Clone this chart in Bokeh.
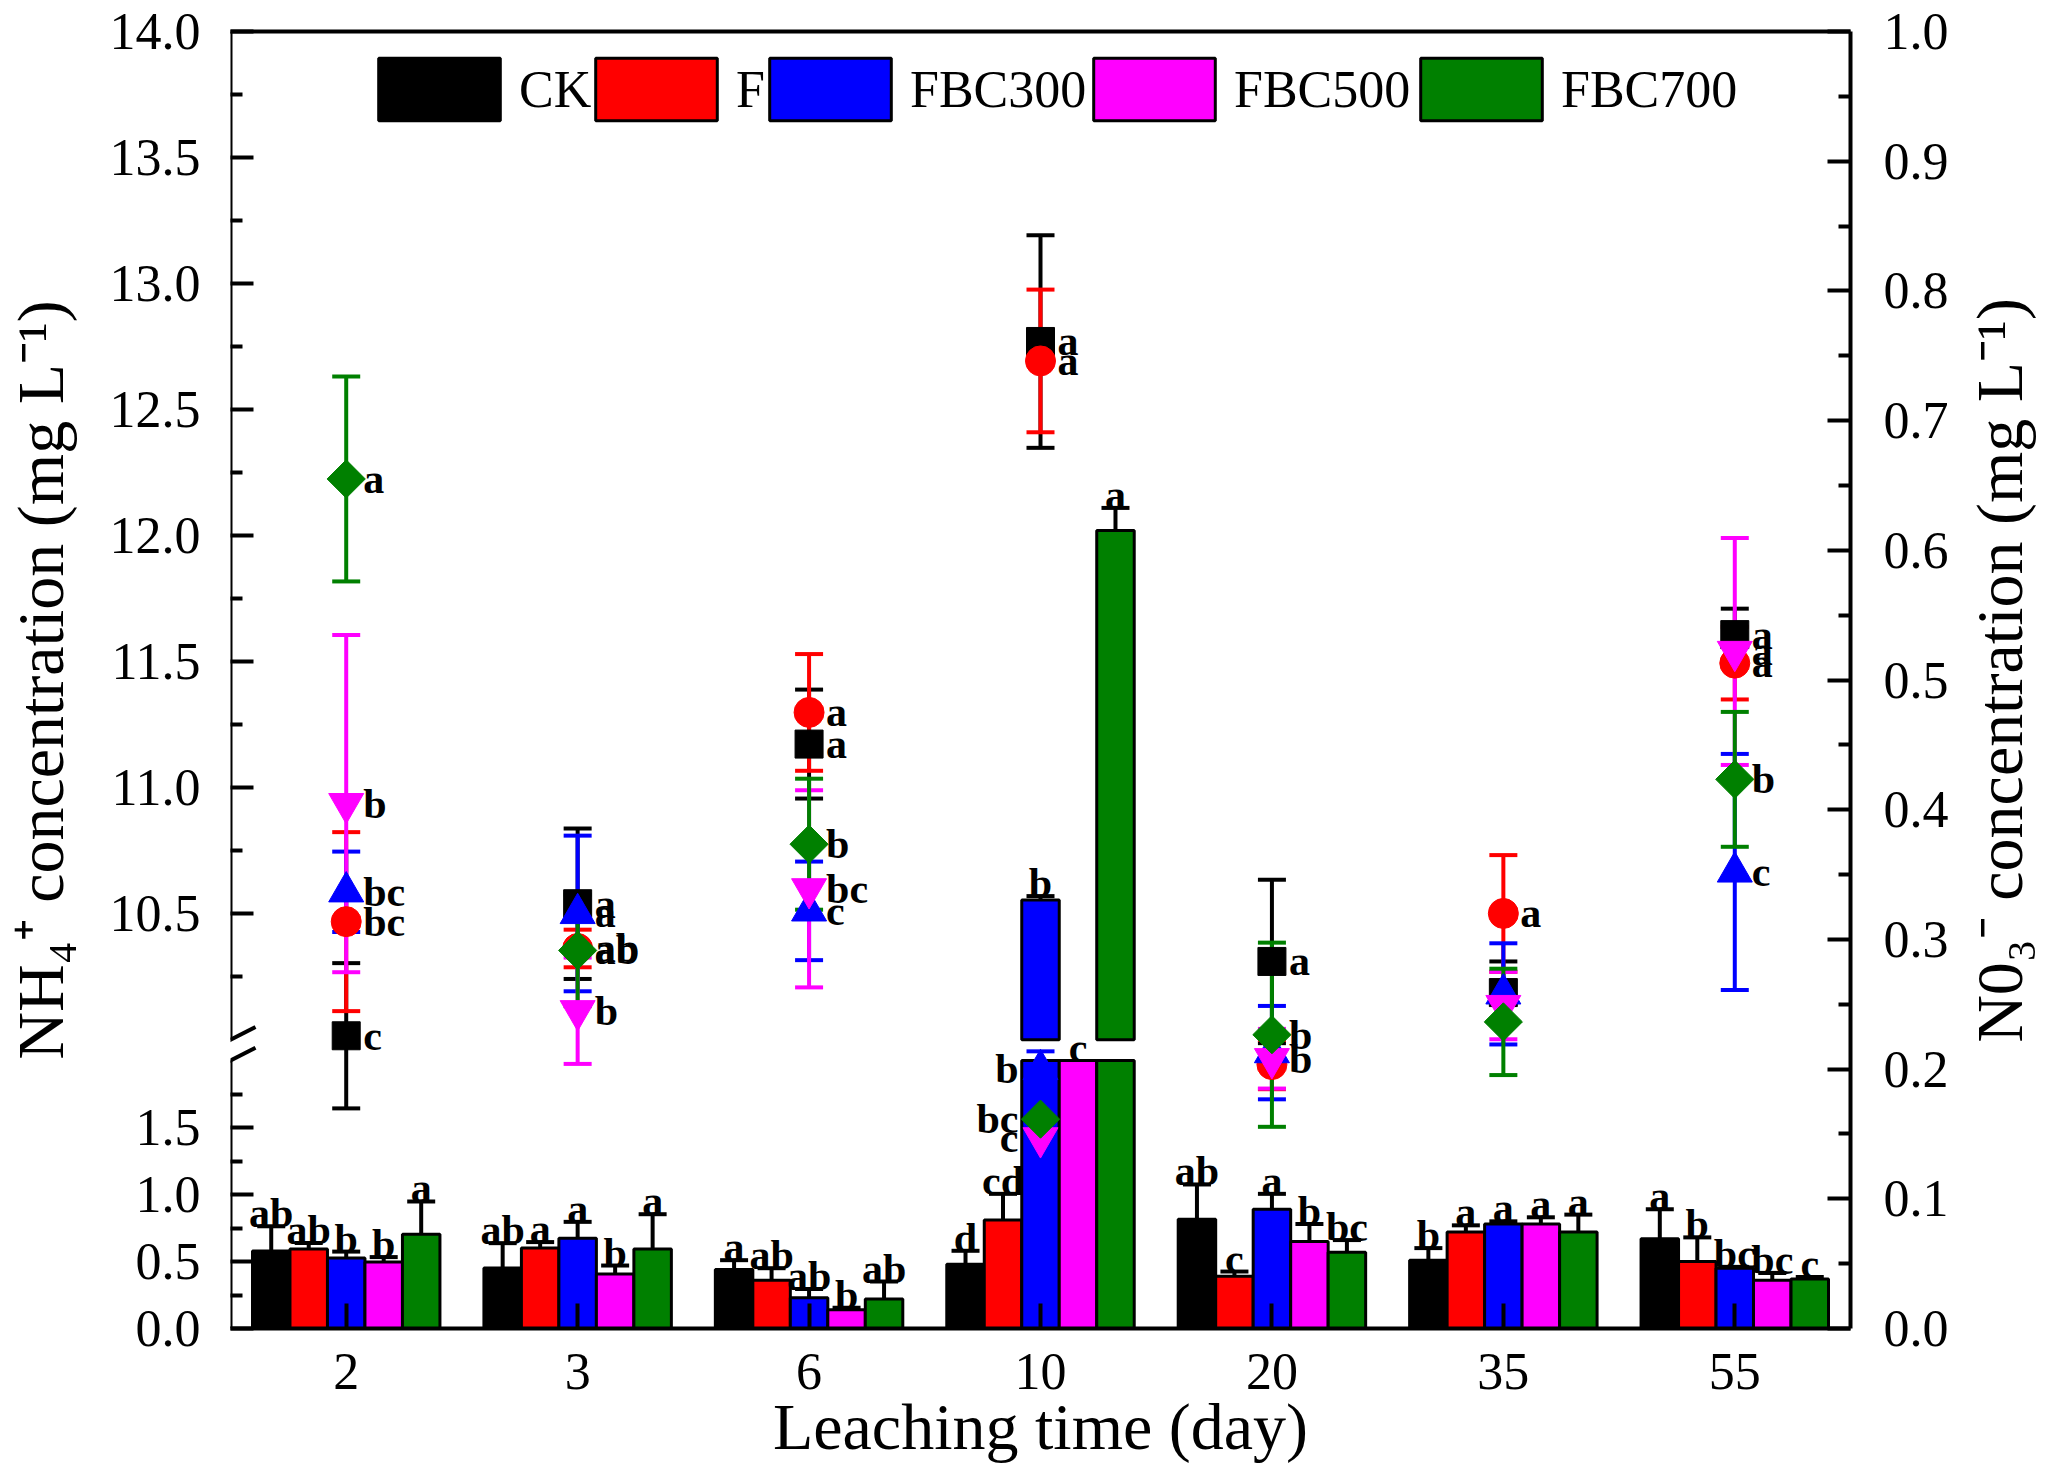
import math
from bokeh.plotting import figure
from bokeh.layouts import row
from bokeh.models import (Range1d, LinearAxis, FixedTicker, CustomJSTickFormatter,
                          PrintfTickFormatter, Whisker, TeeHead, ColumnDataSource, Arrow,
                          Legend, LegendItem)
from bokeh.core.properties import value
from bokeh.embed import file_html
from bokeh.resources import INLINE

# ---------------- data ----------------
days = ["2", "3", "6", "10", "20", "35", "55"]
series = ["CK", "F", "FBC300", "FBC500", "FBC700"]
colors = ["#000000", "#FF0000", "#0000FF", "#FF00FF", "#008000"]

# NH4+ concentration (bars, left broken axis, mg/L)
nh4_CK = [0.578, 0.452, 0.44, 0.48, 0.815, 0.51, 0.67]
nh4_CK_err = [0.185, 0.185, 0.07, 0.10, 0.26, 0.09, 0.22]
nh4_F = [0.593, 0.60, 0.36, 0.81, 0.39, 0.72, 0.50]
nh4_F_err = [0.045, 0.045, 0.09, 0.195, 0.035, 0.05, 0.18]
nh4_FBC300 = [0.526, 0.674, 0.23, 10.555, 0.89, 0.78, 0.45]
nh4_FBC300_err = [0.048, 0.122, 0.065, 0.015, 0.115, 0.02, 0.01]
nh4_FBC500 = [0.496, 0.407, 0.14, 5.0, 0.65, 0.78, 0.36]
nh4_FBC500_err = [0.037, 0.063, 0.015, 0.3, 0.13, 0.05, 0.055]
nh4_FBC700 = [0.704, 0.593, 0.22, 12.02, 0.57, 0.72, 0.37]
nh4_FBC700_err = [0.244, 0.26, 0.13, 0.09, 0.09, 0.13, 0.015]

nh4_CK_sig = ["ab", "ab", "a", "d", "ab", "b", "a"]
nh4_F_sig = ["ab", "a", "ab", "cd", "c", "a", "b"]
nh4_FBC300_sig = ["b", "a", "ab", "b", "a", "a", "bc"]
nh4_FBC500_sig = ["b", "b", "b", "c", "b", "a", "bc"]
nh4_FBC700_sig = ["a", "a", "ab", "a", "bc", "a", "c"]

# NO3- concentration (markers, right axis, mg/L)
no3_CK = [0.2257, 0.3275, 0.4506, 0.761, 0.283, 0.259, 0.535]
no3_CK_err = [0.056, 0.058, 0.042, 0.082, 0.063, 0.024, 0.02]
no3_F = [0.3137, 0.293, 0.475, 0.746, 0.2035, 0.320, 0.513]
no3_F_err = [0.069, 0.0145, 0.045, 0.055, 0.019, 0.045, 0.028]
no3_FBC300 = [0.3367, 0.320, 0.322, 0.1997, 0.2127, 0.258, 0.352]
no3_FBC300_err = [0.031, 0.060, 0.038, 0.014, 0.036, 0.039, 0.091]
no3_FBC500 = [0.4047, 0.245, 0.339, 0.147, 0.208, 0.249, 0.522]
no3_FBC500_err = [0.130, 0.041, 0.076, 0.011, 0.023, 0.026, 0.0875]
no3_FBC700 = [0.655, 0.2915, 0.3734, 0.1614, 0.2265, 0.2364, 0.4234]
no3_FBC700_err = [0.079, 0.043, 0.0505, 0.0165, 0.071, 0.041, 0.052]

no3_CK_sig = ["c", "a", "a", "a", "a", "", "a"]
no3_F_sig = ["bc", "ab", "a", "a", "", "a", "a"]
no3_FBC300_sig = ["bc", "a", "c", "b", "", "", "c"]
no3_FBC500_sig = ["b", "b", "bc", "c", "b", "", "a"]
no3_FBC700_sig = ["a", "ab", "b", "bc", "b", "", "b"]

# axis ticks
left_lo_ticks = [0.0, 0.5, 1.0, 1.5]
left_lo_minor = [0.25, 0.75, 1.25, 1.75]
left_hi_ticks = [10.5, 11.0, 11.5, 12.0, 12.5, 13.0, 13.5, 14.0]
left_hi_minor = [10.25, 10.75, 11.25, 11.75, 12.25, 12.75, 13.25, 13.75]
right_ticks = [0.0, 0.1, 0.2, 0.3, 0.4, 0.5, 0.6, 0.7, 0.8, 0.9, 1.0]
right_minor = [0.05, 0.15, 0.25, 0.35, 0.45, 0.55, 0.65, 0.75, 0.85, 0.95]

left_title = "NH\u2084\u207a concentration (mg L\u207b\u00b9)"
right_title = "N0\u2083\u207b concentration (mg L\u207b\u00b9)"
x_title = "Leaching time (day)"

nh4 = [nh4_CK, nh4_F, nh4_FBC300, nh4_FBC500, nh4_FBC700]
nh4_err = [nh4_CK_err, nh4_F_err, nh4_FBC300_err, nh4_FBC500_err, nh4_FBC700_err]
nh4_sig = [nh4_CK_sig, nh4_F_sig, nh4_FBC300_sig, nh4_FBC500_sig, nh4_FBC700_sig]
no3 = [no3_CK, no3_F, no3_FBC300, no3_FBC500, no3_FBC700]
no3_err = [no3_CK_err, no3_F_err, no3_FBC300_err, no3_FBC500_err, no3_FBC700_err]
no3_sig = [no3_CK_sig, no3_F_sig, no3_FBC300_sig, no3_FBC500_sig, no3_FBC700_sig]

# ---------------- layout / scales ----------------
FONT = "Liberation Serif"
BAR_W = 0.162
TOP_B, FRAME_H, BOT_B = 31, 1297, 118
LEFT_B, FRAME_W, RIGHT_B = 227, 1620, 98
TOTAL_W, TOTAL_H = 2031, TOP_B + FRAME_H + BOT_B

LO_TOP, HI_BOT, HI_TOP = 2.0, 10.0, 14.0
LO_FRAC, HI_FRAC = 0.2066, 0.2226     # fraction of axis height where segments end / start
LO_END = LO_TOP / LO_FRAC
HI_START = (HI_BOT - HI_TOP * HI_FRAC) / (1 - HI_FRAC)


def lo_r(v):
    return v / LO_END


def hi_r(v):
    return (v - HI_START) / (HI_TOP - HI_START)


idx = list(range(len(days)))
X0, X1 = -0.5, len(days) - 0.5

p = figure(frame_width=FRAME_W, frame_height=FRAME_H,
           x_range=Range1d(X0, X1), y_range=Range1d(0, 1),
           x_axis_location=None, y_axis_location=None,
           toolbar_location=None, output_backend="svg",
           min_border_left=LEFT_B, min_border_right=RIGHT_B,
           min_border_top=TOP_B, min_border_bottom=BOT_B)
p.outline_line_color = None
p.xgrid.visible = False
p.ygrid.visible = False
p.extra_y_ranges = {"lo": Range1d(0, LO_END), "hi": Range1d(HI_START, HI_TOP)}

# ---------------- bars ----------------
bar_renderers = []
for k in range(len(series)):
    vals, errs, sigs, col = nh4[k], nh4_err[k], nh4_sig[k], colors[k]
    xs = [i + (k - 2) * BAR_W for i in idx]
    r = p.vbar(x=xs, top=[min(v, LO_TOP) for v in vals], bottom=0, width=BAR_W,
               fill_color=col, line_color="black", line_width=3, y_range_name="lo")
    bar_renderers.append(r)
    hx = [x for x, v in zip(xs, vals) if v > HI_BOT]
    ht = [v for v in vals if v > HI_BOT]
    if hx:
        p.vbar(x=hx, top=ht, bottom=HI_BOT, width=BAR_W, fill_color=col,
               line_color="black", line_width=3, y_range_name="hi")

    for rng, keep in (("lo", lambda v, e: v + e <= LO_TOP), ("hi", lambda v, e: v >= HI_BOT)):
        bx = [x for x, v, e in zip(xs, vals, errs) if keep(v, e)]
        if not bx:
            continue
        lo = [v - e for v, e in zip(vals, errs) if keep(v, e)]
        up = [v + e for v, e in zip(vals, errs) if keep(v, e)]
        src = ColumnDataSource(dict(base=bx, lower=lo, upper=up))
        p.add_layout(Whisker(base="base", lower="lower", upper="upper", source=src,
                             dimension="height", line_color="black", line_width=4,
                             upper_head=TeeHead(size=28, line_width=4, line_color="black"),
                             lower_head=TeeHead(size=28, line_width=4, line_color="black"),
                             y_range_name=rng))

    # significance letters above bars
    lx, ly, lt = [], [], []
    hx2, hy2, ht2 = [], [], []
    for x, v, e, s in zip(xs, vals, errs, sigs):
        if v >= HI_BOT:
            hx2.append(x); hy2.append(v + e); ht2.append(s)
        else:
            lx.append(x); ly.append(min(v + e, LO_TOP)); lt.append(s)
    for X, Y, T, rng in ((lx, ly, lt, "lo"), (hx2, hy2, ht2, "hi")):
        if X:
            p.text(x=X, y=Y, text=T, y_range_name=rng, text_align="center",
                   text_baseline="alphabetic", y_offset=-13,
                   text_font=value(FONT), text_font_style="bold",
                   text_font_size="42px", text_color="black")

# ---------------- markers ----------------
markers = ["square", "circle", "triangle", "inverted_triangle", "square"]
angles = [0, 0, 0, 0, math.pi / 4]
sizes = [28, 30, 35, 35, 27]
for k in range(len(series)):
    p.scatter(x=idx, y=no3[k], marker=markers[k], size=sizes[k], angle=angles[k],
              fill_color=colors[k], line_color=colors[k])
for k in range(len(series)):
    src = ColumnDataSource(dict(base=idx,
                                lower=[v - e for v, e in zip(no3[k], no3_err[k])],
                                upper=[v + e for v, e in zip(no3[k], no3_err[k])]))
    p.add_layout(Whisker(base="base", lower="lower", upper="upper", source=src,
                         dimension="height", line_color=colors[k], line_width=4,
                         upper_head=TeeHead(size=28, line_width=4, line_color=colors[k]),
                         lower_head=TeeHead(size=28, line_width=4, line_color=colors[k])))
for k in range(len(series)):
    rx, ry, rt, lx, ly, lt = [], [], [], [], [], []
    for i, v, s in zip(idx, no3[k], no3_sig[k]):
        if days[i] == "10" and v < LO_FRAC:   # letters that would sit on the tall bars go left
            lx.append(i); ly.append(v); lt.append(s)
        else:
            rx.append(i); ry.append(v); rt.append(s)
    if rx:
        p.text(x=rx, y=ry, text=rt, text_align="left", text_baseline="middle", x_offset=17,
               text_font=value(FONT), text_font_style="bold", text_font_size="42px",
               text_color="black")
    if lx:
        p.text(x=lx, y=ly, text=lt, text_align="right", text_baseline="middle", x_offset=-22,
               text_font=value(FONT), text_font_style="bold", text_font_size="42px",
               text_color="black")

# ---------------- axes ----------------
def style(ax, tick_in=23, minor_in=12):
    ax.axis_line_width = 4
    ax.axis_line_color = "black"
    ax.major_tick_in = tick_in
    ax.major_tick_out = 0
    ax.minor_tick_in = minor_in
    ax.minor_tick_out = 0
    ax.major_tick_line_width = 4
    ax.minor_tick_line_width = 4
    ax.major_label_text_font = FONT
    ax.major_label_text_font_size = "52px"
    ax.major_label_text_color = "black"
    ax.axis_label_text_font = FONT
    ax.axis_label_text_font_style = "normal"
    ax.axis_label_text_font_size = "66px"
    ax.axis_label_text_color = "black"


left_pos = [lo_r(v) for v in left_lo_ticks] + [hi_r(v) for v in left_hi_ticks]
left_lab = ["%.1f" % v for v in left_lo_ticks + left_hi_ticks]
left_minor = [lo_r(v) for v in left_lo_minor] + [hi_r(v) for v in left_hi_minor]
left_ax = LinearAxis(ticker=FixedTicker(ticks=left_pos, minor_ticks=left_minor),
                     formatter=CustomJSTickFormatter(args=dict(pos=left_pos, lab=left_lab), code="""
for (let i = 0; i < pos.length; i++) { if (Math.abs(pos[i] - tick) < 1e-6) return lab[i] }
return ""
"""), axis_label=left_title)
style(left_ax)
left_ax.axis_line_color = None
left_ax.major_label_standoff = 30
left_ax.axis_label_standoff = 30
p.add_layout(left_ax, "left")

right_ax = LinearAxis(ticker=FixedTicker(ticks=right_ticks, minor_ticks=right_minor),
                      formatter=PrintfTickFormatter(format="%.1f"))
style(right_ax)
right_ax.major_label_standoff = 33
p.add_layout(right_ax, "right")

below_ax = LinearAxis(ticker=FixedTicker(ticks=idx, minor_ticks=[]),
                      formatter=CustomJSTickFormatter(args=dict(lab=days),
                                                      code="return lab[Math.round(tick)]"),
                      axis_label=x_title)
style(below_ax, tick_in=25, minor_in=0)
below_ax.major_label_standoff = 25
below_ax.axis_label_standoff = -2
p.add_layout(below_ax, "below")

above_ax = LinearAxis(ticker=FixedTicker(ticks=[], minor_ticks=[]))
above_ax.axis_line_width = 4
above_ax.major_label_text_font_size = "0px"
p.add_layout(above_ax, "above")

# left axis line with a break, and the break marks
for y0, y1 in ((0, LO_FRAC), (HI_FRAC, 1.0)):
    p.add_layout(Arrow(start=None, end=None, x_start=X0, y_start=y0, x_end=X0, y_end=y1,
                       line_width=4, line_color="black"))
DX, DY = 0.108, 0.0099
for yc in (LO_FRAC, HI_FRAC):
    p.add_layout(Arrow(start=None, end=None, x_start=X0 - DX, y_start=yc - DY,
                       x_end=X0 + DX, y_end=yc + DY, line_width=4, line_color="black"))

# ---------------- legend (one entry per box, laid out like the original) ----------------
legend_x = [133, 350, 524, 848, 1175]
for k in reversed(range(len(series))):   # earlier labels drawn over later boxes
    lg = Legend(items=[LegendItem(label=series[k], renderers=[bar_renderers[k]])],
                location=(legend_x[k], FRAME_H - 19 - 78), orientation="horizontal",
                glyph_width=152, glyph_height=78, label_standoff=4, padding=0, margin=0,
                border_line_color=None, background_fill_alpha=0,
                label_text_font=FONT, label_text_font_size="52px", label_text_color="black")
    p.add_layout(lg)

# ---------------- right-axis title: an axis label (bottom-to-top) in a narrow strip ----------------
RW = TOTAL_W - (LEFT_B + FRAME_W + RIGHT_B)
pt = figure(width=RW, height=TOTAL_H, x_range=Range1d(0, 1), y_range=Range1d(0, 1),
            x_axis_location=None, y_axis_location=None, toolbar_location=None,
            output_backend="svg", min_border_left=74, min_border_right=0,
            min_border_top=TOP_B, min_border_bottom=BOT_B)
pt.outline_line_color = None
pt.xgrid.visible = False
pt.ygrid.visible = False
title_ax = LinearAxis(ticker=FixedTicker(ticks=[], minor_ticks=[]), axis_label=right_title)
style(title_ax, tick_in=0, minor_in=0)
title_ax.axis_line_color = None
title_ax.major_tick_line_color = None
title_ax.minor_tick_line_color = None
title_ax.major_label_standoff = 0
title_ax.axis_label_standoff = -10
pt.add_layout(title_ax, "left")

layout = row(p, pt, spacing=0)

with open("out.html", "w", encoding="utf-8") as f:
    f.write(file_html(layout, INLINE, "chart"))
